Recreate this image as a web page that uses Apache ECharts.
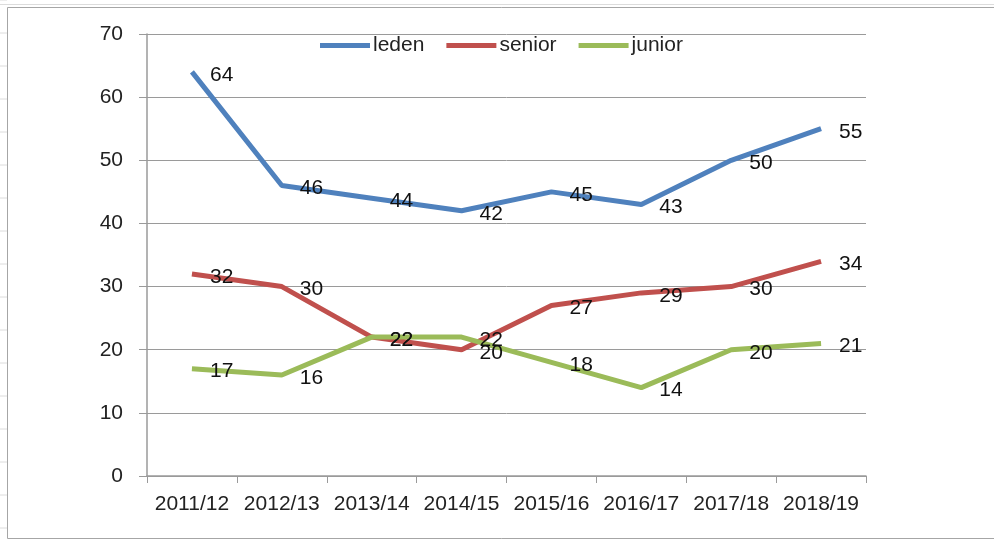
<!DOCTYPE html>
<html>
<head>
<meta charset="utf-8">
<script src="https://cdn.jsdelivr.net/npm/echarts@6/dist/echarts.min.js"></script>
<style>
  html, body { margin: 0; padding: 0; background: #fff; }
  #chart { width: 994px; height: 542px; }
</style>
</head>
<body>
<div id="chart"></div>
<script>
// seizoenen
var categories = ["2011/12", "2012/13", "2013/14", "2014/15", "2015/16", "2016/17", "2017/18", "2018/19"];
var leden = [64, 46, 44, 42, 45, 43, 50, 55];
var senior = [32, 30, 22, 20, 27, 29, 30, 34];
var junior = [17, 16, 22, 22, 18, 14, 20, 21];
var yTicks = [0, 10, 20, 30, 40, 50, 60, 70];

var font = "'Liberation Sans', Arial, sans-serif";

function lineSeries(name, data, color) {
  return {
    name: name,
    type: "line",
    data: data,
    symbol: "circle",
    symbolSize: 0.1,
    showSymbol: true,
    lineStyle: { width: 5, color: color },
    itemStyle: { color: color },
    label: {
      show: true,
      position: "right",
      distance: 18,
      offset: [0, 3],
      color: "#111",
      fontSize: 21,
      fontFamily: font
    }
  };
}

// excel-raster links van de grafiek
var sheetLines = [];
for (var y = 0; y < 542; y += 33) {
  sheetLines.push({
    type: "line",
    shape: { x1: 0, y1: y, x2: 7, y2: y },
    style: { stroke: "#dcdcdc", lineWidth: 1 },
    silent: true
  });
}

var chart = echarts.init(document.getElementById("chart"));
chart.setOption({
  backgroundColor: "#fff",
  animation: false,
  graphic: sheetLines.concat([
    {
      type: "rect",
      shape: { x: 7.5, y: 7.5, width: 1000, height: 531 },
      style: { fill: "none", stroke: "#a6a6a6", lineWidth: 1 },
      silent: true
    },
    {
      type: "line",
      shape: { x1: 0, y1: 4.5, x2: 994, y2: 4.5 },
      style: { stroke: "#dcdcdc", lineWidth: 1 },
      silent: true
    }
  ]),
  legend: {
    top: 30,
    left: 315,
    itemWidth: 50,
    itemHeight: 5,
    itemGap: 22,
    icon: "rect",
    textStyle: { fontSize: 21, color: "#222", fontFamily: font, padding: [0, 0, 0, -2] },
    data: ["leden", "senior", "junior"]
  },
  grid: { left: 147, right: 128, top: 34, bottom: 66 },
  xAxis: {
    type: "category",
    data: categories,
    boundaryGap: true,
    axisLine: { lineStyle: { color: "#9a9a9a", width: 1.5 } },
    axisTick: { show: true, interval: 0, length: 7, alignWithLabel: false, lineStyle: { color: "#9a9a9a" } },
    axisLabel: { interval: 0, fontSize: 21, color: "#222", fontFamily: font, margin: 18 }
  },
  yAxis: {
    type: "value",
    min: yTicks[0],
    max: yTicks[yTicks.length - 1],
    interval: 10,
    axisLine: { show: true, lineStyle: { color: "#9a9a9a", width: 1.5 } },
    axisTick: { show: true, length: 8, lineStyle: { color: "#9a9a9a" } },
    axisLabel: { fontSize: 21, color: "#222", fontFamily: font, margin: 24 },
    splitLine: { lineStyle: { color: "#9a9a9a", width: 1 } }
  },
  series: [
    lineSeries("leden", leden, "#4f81bd"),
    lineSeries("senior", senior, "#c0504d"),
    lineSeries("junior", junior, "#9bbb59")
  ]
});
</script>
</body>
</html>
